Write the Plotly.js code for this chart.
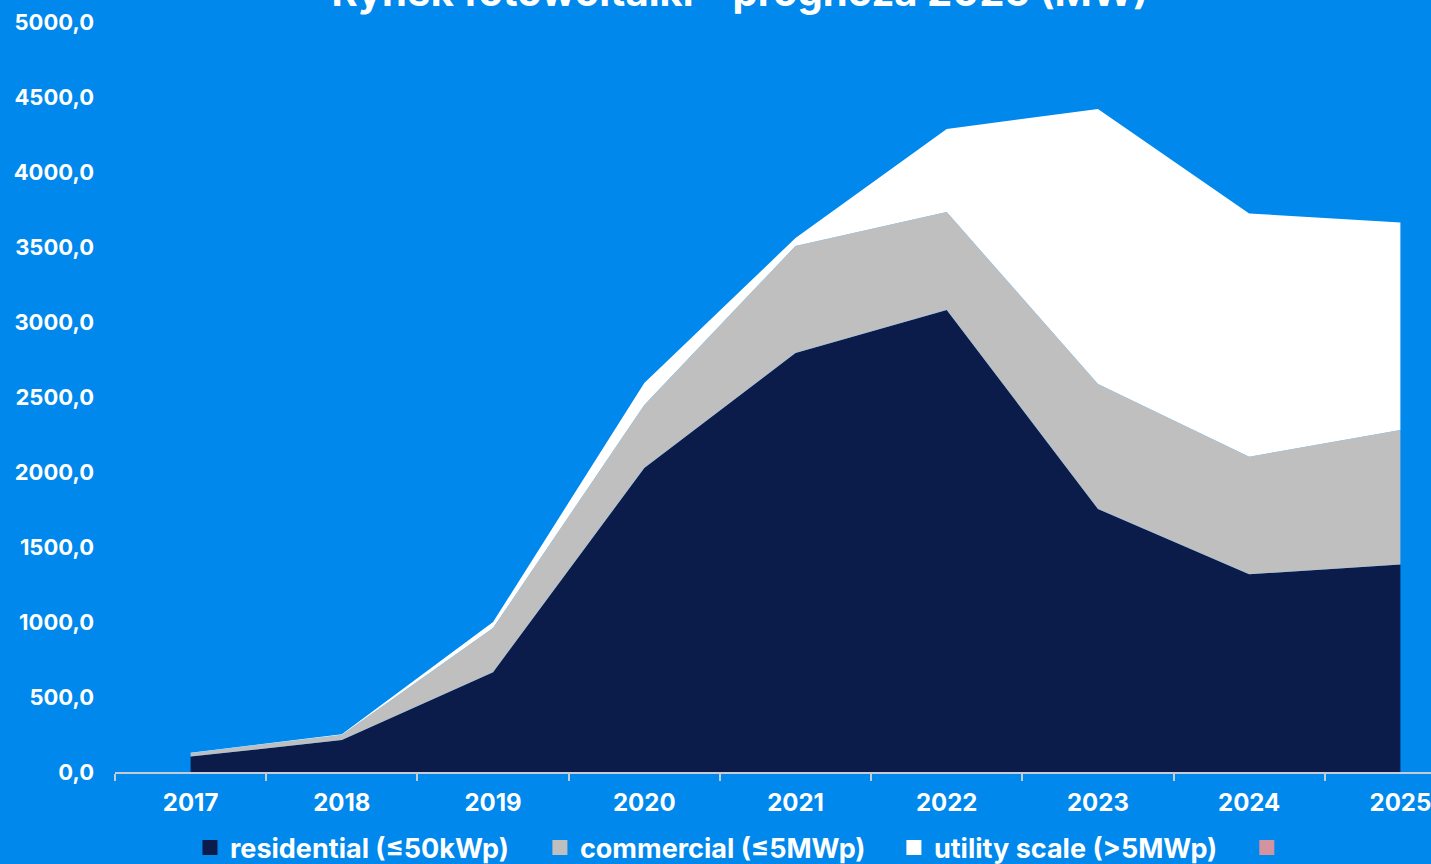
<!DOCTYPE html>
<html>
<head>
<meta charset="utf-8">
<script src="https://cdn.plot.ly/plotly-3.0.1.min.js"></script>
<style>
html,body{margin:0;padding:0;overflow:hidden;background:#0088ED;width:1431px;height:864px;}
#chart{position:absolute;left:0;top:-40px;width:1480px;height:920px;}
</style>
</head>
<body>
<div id="chart"></div>
<script>
const years = ['2017','2018','2019','2020','2021','2022','2023','2024','2025'];
const residential = [103, 213, 665, 2027, 2793, 3080, 1753, 1318, 1384];
const commercial  = [22, 34, 295, 420, 714, 653, 834, 784, 896];
const utility     = [3, 5, 40, 146, 53, 554, 1833, 1622, 1384];
const other       = [0, 0, 0, 0, 0, 0, 0, 0, 0];
const seriesNames = ['residential (≤50kWp)', 'commercial (≤5MWp)', 'utility scale (>5MWp)', ' '];
const seriesColors = ['#0C1C4A', '#BFBFBF', '#FFFFFF', '#D4949F'];
const yTicks = [0, 500, 1000, 1500, 2000, 2500, 3000, 3500, 4000, 4500, 5000];
const titleText = 'Rynek fotowoltaiki – prognoza 2025 (MW)';

const FONT = 'Inter, "Open Sans", sans-serif';
const values = [residential, commercial, utility, other];
const legendIds = ['legend', 'legend2', 'legend3', 'legend4'];
const legendX = [0.0551, 0.3122, 0.5723, 0.8316];

const traces = [];
values.forEach((v, i) => {
  traces.push({
    type: 'scatter', x: years, y: v, stackgroup: 'one', mode: 'none',
    fill: i === 0 ? 'tozeroy' : 'tonexty', fillcolor: seriesColors[i],
    line: {width: 0}, showlegend: false, hoverinfo: 'skip'
  });
});
values.forEach((v, i) => {
  traces.push({
    type: 'scatter', x: [years[0]], y: [null], mode: 'markers', name: seriesNames[i],
    legend: legendIds[i],
    marker: {symbol: 'square', size: 15, color: seriesColors[i]}, showlegend: true
  });
});

const layout = {
  width: 1480, height: 920,
  paper_bgcolor: '#0088ED', plot_bgcolor: '#0088ED',
  separators: ', ',
  margin: {l: 115, r: 4, t: 62, b: 108, pad: 0},
  title: {text: titleText, x: 0.5, xref: 'container', xanchor: 'center',
          y: 0.9652, yref: 'container', yanchor: 'middle',
          font: {family: FONT, size: 40, weight: 700, color: '#FFFFFF'}},
  xaxis: {type: 'category', range: [-0.5, 8.5], showgrid: false, zeroline: false,
          showline: true, linecolor: '#C5CCD6', linewidth: 2,
          ticks: 'outside', tickson: 'boundaries', ticklen: 7, tickwidth: 2, tickcolor: '#C5CCD6',
          ticklabelstandoff: 8,
          tickfont: {family: FONT, size: 24, weight: 700, color: '#FFFFFF'}},
  yaxis: {range: [0, 5000], showgrid: false, zeroline: false, showline: false,
          tickvals: yTicks, tickformat: '.1f', ticks: '', ticklabelstandoff: 20,
          tickfont: {family: FONT, size: 22, weight: 700, color: '#FFFFFF'}},
  showlegend: true,
  hovermode: false
};
legendIds.forEach((id, i) => {
  layout[id] = {orientation: 'h', x: legendX[i], xanchor: 'left', y: -0.1013, yanchor: 'middle',
    itemclick: false, bgcolor: 'rgba(0,0,0,0)',
    font: {family: FONT, size: 27, weight: 700, color: '#FFFFFF'}};
});

Plotly.newPlot('chart', traces, layout, {displayModeBar: false, staticPlot: true});
</script>
</body>
</html>
